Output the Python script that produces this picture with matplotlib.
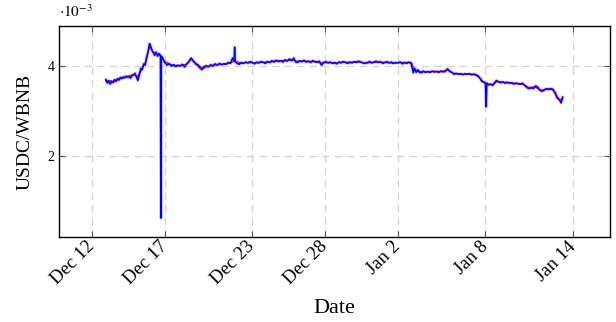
import datetime as dt
import matplotlib
matplotlib.use("Agg")
import matplotlib.pyplot as plt
import matplotlib.dates as mdates

plt.rcParams['font.family'] = ['Liberation Serif', 'DejaVu Serif']
plt.rcParams['mathtext.fontset'] = 'stix'

# days after Dec 12 (00:00), prices in units of 1e-3
blue_t = [0.96, 1.05, 1.15, 1.25, 1.35, 1.45, 1.55, 1.65, 1.75, 1.85, 1.95, 2.05, 2.15, 2.25, 2.35,
          2.45, 2.55, 2.65, 2.75, 2.85, 2.95, 3.05, 3.15, 3.25, 3.35, 3.45, 3.55, 3.65, 3.75, 3.85,
          3.95, 4.02, 4.10, 4.20, 4.30, 4.40, 4.50, 4.60, 4.70, 4.73, 4.76, 4.85, 4.95, 5.05, 5.15,
          5.30, 5.45, 5.60, 5.75, 5.90, 6.05, 6.20, 6.35, 6.50, 6.65, 6.80, 6.95, 7.10, 7.25, 7.40,
          7.55, 7.70, 7.85, 8.00, 8.15, 8.30, 8.45, 8.60, 8.75, 8.90, 9.05, 9.20, 9.35, 9.50, 9.65,
          9.75, 9.79, 9.83, 9.95, 10.10, 10.25, 10.40, 10.55, 10.70, 10.85, 11.00, 11.15, 11.30,
          11.45, 11.60, 11.75, 11.90, 12.05, 12.20, 12.35, 12.50, 12.65, 12.80, 12.95, 13.10, 13.25,
          13.40, 13.55, 13.70, 13.85, 13.95, 14.10, 14.25, 14.40, 14.55, 14.70, 14.85, 15.00, 15.15,
          15.30, 15.45, 15.60, 15.75, 15.90, 16.05, 16.20, 16.35, 16.50, 16.65, 16.80, 16.95, 17.10,
          17.25, 17.40, 17.55, 17.70, 17.85, 18.00, 18.15, 18.30, 18.45, 18.60, 18.75, 18.90, 19.05,
          19.20, 19.35, 19.50, 19.65, 19.80, 19.95, 20.10, 20.25, 20.40, 20.55, 20.70, 20.85, 21.00,
          21.15, 21.30, 21.45, 21.60, 21.75, 21.90, 22.00, 22.05, 22.15, 22.25, 22.35, 22.45, 22.60,
          22.75, 22.90, 23.05, 23.20, 23.35, 23.50, 23.65, 23.80, 23.95, 24.10, 24.25, 24.40, 24.55,
          24.70, 24.85, 25.00, 25.15, 25.30, 25.45, 25.60, 25.75, 25.90, 26.05, 26.20, 26.35, 26.50,
          26.65, 26.75, 26.90, 27.00, 27.05, 27.10, 27.20, 27.35, 27.50, 27.65, 27.75, 27.90, 28.05,
          28.20, 28.35, 28.50, 28.65, 28.80, 28.95, 29.10, 29.25, 29.40, 29.55, 29.70, 29.85, 30.00,
          30.15, 30.30, 30.45, 30.60, 30.75, 30.90, 31.05, 31.20, 31.35, 31.50, 31.65, 31.80, 31.90,
          32.00, 32.10, 32.20, 32.30]
blue_v = [3.70, 3.62, 3.67, 3.60, 3.66, 3.63, 3.70, 3.66, 3.72, 3.69, 3.75, 3.72, 3.76, 3.74, 3.78,
          3.75, 3.77, 3.73, 3.79, 3.80, 3.84, 3.76, 3.68, 3.80, 3.95, 3.92, 4.05, 4.02, 4.20, 4.32,
          4.50, 4.45, 4.36, 4.30, 4.24, 4.31, 4.22, 4.28, 4.24, 0.62, 4.22, 4.18, 4.10, 4.06, 4.02,
          4.05, 4.00, 4.03, 3.99, 4.02, 4.00, 4.04, 3.98, 4.05, 4.10, 4.18, 4.12, 4.05, 4.02, 3.96,
          3.92, 3.99, 4.01, 3.98, 4.03, 4.00, 4.05, 4.02, 4.06, 4.03, 4.05, 4.04, 4.08, 4.06, 4.18,
          4.12, 4.42, 4.10, 4.06, 4.04, 4.08, 4.06, 4.09, 4.07, 4.10, 4.08, 4.05, 4.09,
          4.07, 4.10, 4.08, 4.06, 4.10, 4.08, 4.12, 4.09, 4.13, 4.10, 4.12, 4.09, 4.14,
          4.11, 4.16, 4.12, 4.18, 4.10, 4.08, 4.12, 4.10, 4.13, 4.09, 4.11, 4.08, 4.12,
          4.10, 4.09, 4.11, 4.02, 4.08, 4.10, 4.07, 4.09, 4.06, 4.08, 4.05, 4.09, 4.07,
          4.10, 4.08, 4.06, 4.09, 4.07, 4.10, 4.08, 4.11, 4.09, 4.07, 4.06, 4.08, 4.10,
          4.07, 4.09, 4.11, 4.08, 4.10, 4.06, 4.08, 4.10, 4.07, 4.09, 4.06, 4.08, 4.07,
          4.09, 4.05, 4.08, 4.06, 4.09, 4.07, 3.92, 3.85, 3.95, 3.86, 3.92, 3.87, 3.85,
          3.89, 3.86, 3.88, 3.86, 3.89, 3.87, 3.88, 3.86, 3.89, 3.87, 3.88, 3.94, 3.88,
          3.86, 3.82, 3.84, 3.82, 3.83, 3.81, 3.83, 3.82, 3.83, 3.81, 3.82, 3.81, 3.78,
          3.72, 3.66, 3.64, 3.62, 3.10, 3.62, 3.58, 3.60, 3.57, 3.64, 3.68, 3.65, 3.63,
          3.65, 3.62, 3.64, 3.62, 3.63, 3.60, 3.62, 3.61, 3.60, 3.62, 3.57, 3.52, 3.50,
          3.52, 3.50, 3.56, 3.53, 3.46, 3.44, 3.47, 3.50, 3.48, 3.50, 3.48, 3.40, 3.30,
          3.27, 3.24, 3.18, 3.31]

red_t = [0.96, 1.5, 2.0, 2.5, 2.9, 3.1, 3.4, 3.7, 3.95, 4.2, 4.5, 4.75, 5.0, 5.5, 6.0, 6.5, 6.8,
         7.2, 7.6, 8.0, 8.5, 9.0, 9.5, 9.8, 10.2, 10.7, 11.2, 11.7, 12.2, 12.7, 13.2, 13.7, 14.2,
         14.7, 15.2, 15.7, 16.2, 16.7, 17.2, 17.7, 18.2, 18.7, 19.2, 19.7, 20.2, 20.7, 21.2, 21.7,
         21.95, 22.1, 22.5, 23.0, 23.5, 24.0, 24.4, 24.8, 25.3, 25.8, 26.3, 26.6, 26.9, 27.2, 27.5,
         27.8, 28.2, 28.7, 29.2, 29.6, 30.0, 30.4, 30.8, 31.2, 31.6, 31.85, 32.1, 32.3]
red_v = [3.68, 3.66, 3.73, 3.77, 3.82, 3.75, 3.92, 4.10, 4.45, 4.32, 4.26, 4.22, 4.10, 4.02, 4.01,
         4.04, 4.15, 4.05, 3.95, 4.00, 4.03, 4.04, 4.07, 4.12, 4.06, 4.08, 4.07, 4.09, 4.09, 4.12,
         4.12, 4.14, 4.10, 4.11, 4.10, 4.07, 4.08, 4.07, 4.09, 4.08, 4.10, 4.07, 4.08, 4.09, 4.08,
         4.07, 4.08, 4.08, 4.06, 3.90, 3.88, 3.87, 3.88, 3.88, 3.92, 3.84, 3.82, 3.82, 3.81, 3.74,
         3.64, 3.60, 3.59, 3.66, 3.64, 3.63, 3.61, 3.59, 3.52, 3.54, 3.46, 3.49, 3.48, 3.36, 3.25,
         3.28]

tick_dates = ["2021-12-12", "2021-12-17", "2021-12-23", "2021-12-28",
              "2022-01-02", "2022-01-08", "2022-01-14"]
tick_labels = ["Dec 12", "Dec 17", "Dec 23", "Dec 28", "Jan 2", "Jan 8", "Jan 14"]

base = dt.datetime(2021, 12, 12)
bx = [base + dt.timedelta(days=d) for d in blue_t]
rx = [base + dt.timedelta(days=d) for d in red_t]

fig = plt.figure(figsize=(6.16, 3.22), dpi=100)
ax = fig.add_axes([0.0963, 0.264, 0.8937, 0.655])

# light halo first, then red, then the blue core on top
ax.plot(bx, blue_v, color='blue', lw=2.4, alpha=0.2)
ax.plot(rx, red_v, color='red', lw=1.1)
ax.plot(bx, blue_v, color='blue', lw=1.1)

ax.set_xlim(base - dt.timedelta(days=2.24), base + dt.timedelta(days=35.54))
ax.set_ylim(0.2, 4.89)

ticks = [mdates.date2num(dt.datetime.fromisoformat(s)) for s in tick_dates]
ax.set_xticks(ticks)
ax.set_xticklabels(tick_labels, rotation=45, ha='right', va='center',
                   rotation_mode='anchor', fontsize=13.5)
ax.set_yticks([2, 4])
ax.set_yticklabels(['2', '4'], fontsize=10)

ax.grid(True, color='#d3d3d3', linestyle=(0, (6, 4)), lw=0.9)
ax.tick_params(direction='in', length=4, width=0.8, color='#555555',
               top=True, right=True)
ax.tick_params(axis='x', pad=5)
for s in ax.spines.values():
    s.set_linewidth(1.0)

ax.set_xlabel('Date', fontsize=16, labelpad=8)
ax.set_ylabel('USDC/WBNB', fontsize=14, labelpad=10)
ax.text(0.0, 1.03, r'$\cdot10^{-3}$', transform=ax.transAxes, fontsize=11,
        ha='left', va='bottom')

fig.savefig('out.png', dpi=100)
